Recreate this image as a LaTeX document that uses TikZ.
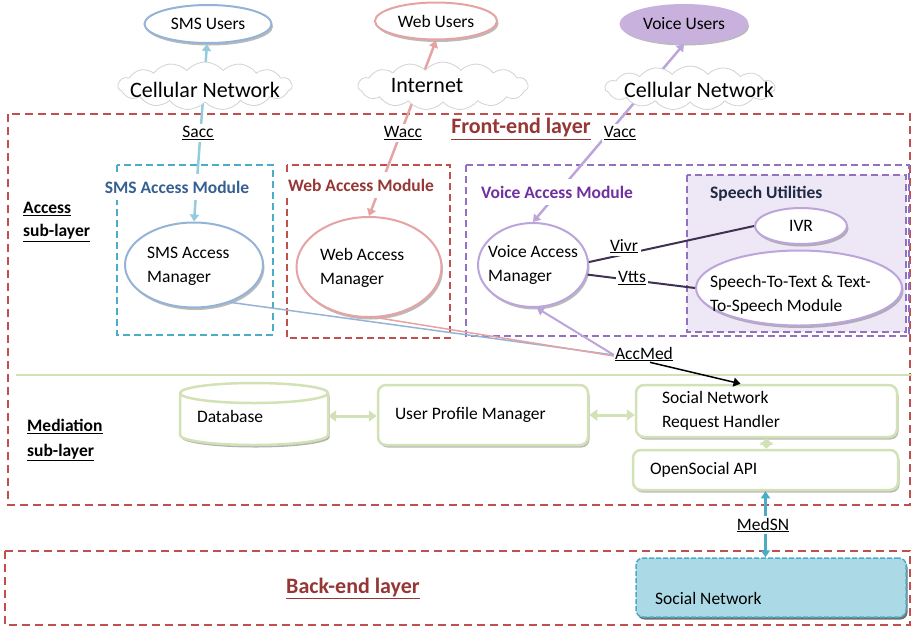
\documentclass[tikz,border=0pt]{standalone}
\usepackage{fontspec}
\setmainfont{Carlito}
\usetikzlibrary{shapes.geometric,shapes.symbols,shadows,arrows.meta}
\definecolor{fred}{HTML}{C0504D}
\definecolor{dred}{HTML}{953735}
\definecolor{cyanm}{HTML}{4BACC6}
\definecolor{lcyan}{HTML}{93CDDD}
\definecolor{smsblue}{HTML}{95B3D7}
\definecolor{smstext}{HTML}{376092}
\definecolor{pinkc}{HTML}{E6A3A3}
\definecolor{purp}{HTML}{7030A0}
\definecolor{purpm}{HTML}{9370C0}
\definecolor{lav}{HTML}{BBA5DA}
\definecolor{lavfill}{HTML}{C9B1DD}
\definecolor{speechfill}{HTML}{EEE7F6}
\definecolor{navy}{HTML}{1F2A44}
\definecolor{dpurp}{HTML}{3F3151}
\definecolor{grn}{HTML}{D3E2B6}
\definecolor{snfill}{HTML}{ABDAE6}
\tikzset{
  layerbox/.style={draw=fred, line width=1.8pt, dash pattern=on 8pt off 5pt},
  modbox/.style={line width=1.8pt, dash pattern=on 7pt off 4pt},
  shad/.style={drop shadow={shadow xshift=1.5pt, shadow yshift=-2.5pt, opacity=0.45, fill=black!60}},
  userell/.style={ellipse, line width=2pt, shad, minimum width=127pt, minimum height=38pt},
  mgr/.style={ellipse, line width=2pt, fill=white, shad},
  gbox/.style={draw=grn, line width=2.5pt, rounded corners=8pt, fill=white, shad, align=flush left},
  cloudst/.style={cloud, cloud puffs=15, cloud puff arc=100, draw=gray!35, fill=white, line width=0.8pt, inner sep=0pt},
  lbl/.style={fill=white, inner sep=2pt},
  modlbl/.style={fill=white, inner xsep=8pt, inner ysep=7pt, font=\bfseries\fontsize{17.5}{24}\selectfont},
  bigfont/.style={font=\fontsize{22}{26}\selectfont},
  arr/.style={-{Triangle[width=9pt,length=7pt]}},
  darr/.style={{Triangle[width=9pt,length=7pt]}-{Triangle[width=9pt,length=7pt]}},
  gdarr/.style={{Triangle[width=11pt,length=8pt]}-{Triangle[width=11pt,length=8pt]}},
}
\begin{document}
\begin{tikzpicture}[x=1pt,y=-1pt, every node/.style={font=\fontsize{17.5}{24}\selectfont, inner sep=2pt}]
\useasboundingbox (0,0) rectangle (912,627);
% layers
\draw[layerbox] (8,114) rectangle (910,505);
\draw[layerbox] (5,551) rectangle (910,625);
\draw[grn, line width=1.5pt] (16,375) -- (912,375);
% modules
\draw[cyanm, modbox] (117,165) rectangle (273,335);
\draw[fred, modbox] (287,165) rectangle (450,338);
\draw[purpm, modbox] (466,165) rectangle (909,336);
\draw[purpm, modbox, fill=speechfill] (687,175) rectangle (906,332);
% users
\node[userell, draw=smsblue, fill=white] (smsu) at (208,24) {SMS Users};
\node[userell, draw=pinkc, fill=white, minimum width=122pt, minimum height=37pt] (webu) at (436,21) {Web Users};
\node[userell, draw=lavfill, fill=lavfill] (voiceu) at (684,24) {Voice Users};
% managers
\node[mgr, draw=smsblue, minimum width=138pt, minimum height=85pt] (smsm) at (194,265) {};
\node[mgr, draw=pinkc, minimum width=145pt, minimum height=100pt] (webm) at (369,267) {};
\node[mgr, draw=lav, minimum width=110pt, minimum height=84pt] (voicem) at (533,265) {};
\node[mgr, draw=lav, minimum width=92pt, minimum height=36pt] (ivr) at (801,226) {IVR};
\node[mgr, draw=lav, minimum width=206pt, minimum height=75pt] (stt) at (799,288) {};
\node[anchor=west, align=left] (smsmt) at (145,266.5) {SMS Access\\Manager};
\node[anchor=west, align=left] (webmt) at (318,267.5) {Web Access\\Manager};
\node[anchor=west, align=left] (voicemt) at (486,264.5) {Voice Access\\Manager};
\node[anchor=west, align=left] (sttt) at (708,295) {Speech-To-Text \& Text-\\To-Speech Module};
% mediation
\fill[black, opacity=0.3, shift={(1.5pt,-2.5pt)}] (180,393) -- (180,435) arc[start angle=180, end angle=360, x radius=74pt, y radius=10pt] -- (328,393) -- cycle;
\filldraw[draw=grn, fill=white, line width=2.5pt] (180,393) -- (180,435) arc[start angle=180, end angle=360, x radius=74pt, y radius=10pt] -- (328,393) arc[start angle=0, end angle=180, x radius=74pt, y radius=10pt] -- cycle;
\draw[grn, line width=2.5pt] (180,393) arc[start angle=180, end angle=360, x radius=74pt, y radius=10pt];
\node[minimum width=148pt, minimum height=62pt, inner xsep=17pt, text width=114pt, align=flush left] (db) at (254,416) {Database};
\node[gbox, minimum height=60pt, inner xsep=17pt, text width=176pt] (upm) at (483,415) {User Profile Manager};
\node[gbox, minimum height=52pt, inner xsep=26pt, text width=209pt] (snrh) at (766.5,411) {Social Network\\Request Handler};
\node[gbox, minimum height=40pt, inner xsep=17pt, text width=231pt] (os) at (765.5,470) {OpenSocial API};
% back-end
\node[draw=cyanm, fill=snfill, line width=1.5pt, dash pattern=on 5pt off 2pt, rounded corners=7pt, minimum width=270pt, minimum height=59pt, drop shadow={shadow xshift=1.5pt, shadow yshift=-2.5pt, opacity=0.8, fill=black!70}] (sn) at (771,587.5) {};
\node[anchor=west] (snt) at (653,598) {Social Network};
% connectors
\draw[lcyan, line width=2.5pt, darr] ([xshift=-1pt]smsu.south) -- (smsm.north);
\draw[pinkc, line width=2.5pt, darr] (webu.south) -- (webm.north);
\draw[lav, line width=2.5pt, darr] (voiceu.south) -- (voicem.north);
\node[inner sep=1pt] (accmed) at (644,354) {\underline{AccMed}};
\draw[smsblue, line width=1.5pt] (smsm.-46) -- ([yshift=-1pt]accmed.west);
\draw[pinkc, line width=1.5pt] (webm.-81) -- ([yshift=-2pt]accmed.west);
\draw[lav, line width=2pt, arr] ([yshift=-1pt]accmed.west) -- (voicem.-85);
\draw[black, line width=1.5pt, arr] ([xshift=6pt]accmed.south) -- ([xshift=-26pt]snrh.north);
\draw[dpurp, line width=2pt] (voicem.3) -- (ivr.west);
\draw[dpurp, line width=2pt] (voicem.-10) -- (stt.west);
\draw[grn, line width=3pt, gdarr] (db.east) -- (db.east -| upm.west);
\draw[grn, line width=3pt, gdarr] (upm.east) -- (upm.east -| snrh.west);
\draw[grn, line width=3pt, {Triangle[width=13pt,length=6.5pt]}-{Triangle[width=13pt,length=6.5pt]}] (snrh.south) -- (snrh.south |- os.north);
\draw[cyanm, line width=2.5pt, darr] (os.south) -- (os.south |- sn.north);
% clouds
\node[cloudst, minimum width=174pt, minimum height=48pt] (cloud1) at (205,86) {};
\node[bigfont] (cloud1t) at (205,90) {Cellular Network};
\node[cloudst, minimum width=170pt, minimum height=48pt] (cloud2) at (443,86) {};
\node[bigfont] (cloud2t) at (427,86) {Internet};
\node[cloudst, minimum width=170pt, minimum height=44pt] (cloud3) at (690,88) {};
\node[bigfont] (cloud3t) at (699,90) {Cellular Network};
% labels
\node[lbl] (sacc) at (198,133) {\underline{Sacc}};
\node[lbl] (wacc) at (403,133) {\underline{Wacc}};
\node[lbl] (vacc) at (620,133) {\underline{Vacc}};
\node[lbl, inner sep=3pt] (vivr) at (624,246) {\underline{Vivr}};
\node[lbl] (vtts) at (632,278) {\underline{Vtts}};
\node[lbl] (medsn) at (763,525) {\underline{MedSN}};
\node[font=\bfseries\fontsize{22}{26}\selectfont, text=dred, fill=white, inner sep=1pt] (fel) at (521,129) {\underline{Front-end layer}};
\node[font=\bfseries\fontsize{22}{26}\selectfont, text=dred] (bel) at (353,588) {\underline{Back-end layer}};
\node[modlbl, text=smstext] (smsml) at (177,187) {SMS Access Module};
\node[modlbl, text=dred] (webml) at (361,185) {Web Access Module};
\node[modlbl, text=purp] (voiceml) at (557,192) {Voice Access Module};
\node[anchor=west, font=\bfseries\fontsize{17.5}{24}\selectfont, text=navy] (spl) at (708,194) {Speech Utilities};
\node[anchor=west, align=left, font=\bfseries\fontsize{17.5}{23}\selectfont] (accl) at (21,222) {\underline{Access}\\\underline{sub-layer}};
\node[anchor=west, align=left, font=\bfseries\fontsize{17.5}{25}\selectfont] (medl) at (25,440) {\underline{Mediation}\\\underline{sub-layer}};
\end{tikzpicture}
\end{document}
